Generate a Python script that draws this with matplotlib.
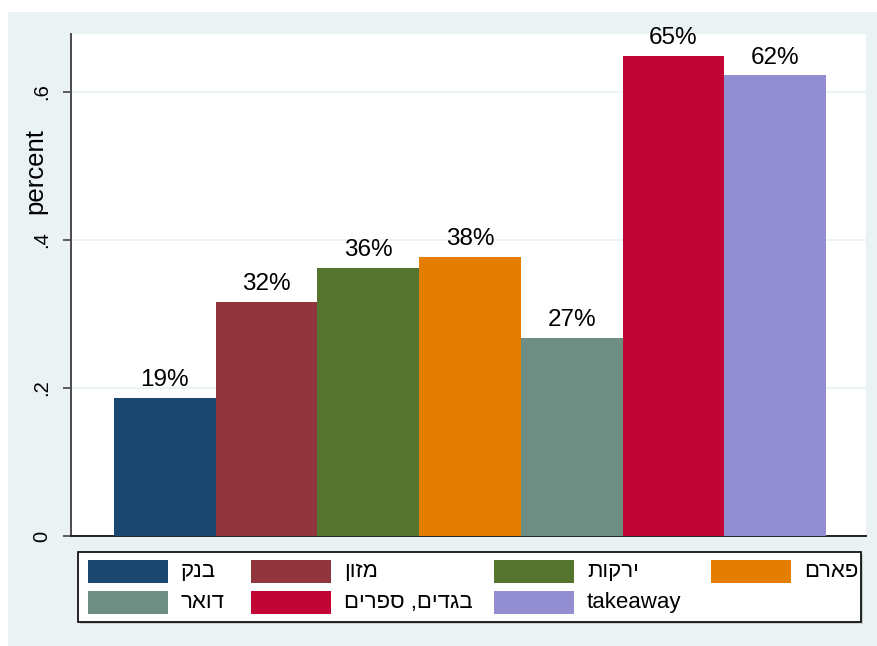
import matplotlib.pyplot as plt
from matplotlib.patches import Rectangle

plt.rcParams['font.family'] = ['Liberation Sans', 'DejaVu Sans']

# shares per category (Hebrew names kept in logical order)
categories = ['בנק', 'מזון', 'ירקות', 'פארם', 'דואר', 'בגדים, ספרים', 'takeaway']
values = [0.186, 0.316, 0.362, 0.377, 0.268, 0.648, 0.622]
colors = ['#1A476F', '#90353B', '#55752F', '#E37E00', '#6E8E84', '#C10534', '#938DD2']
yticks = [0, 0.2, 0.4, 0.6]
ytick_labels = ['0', '.2', '.4', '.6']


def visual(s):
    # matplotlib has no bidi support, so flip right-to-left strings
    if any('\u0590' <= ch <= '\u05FF' for ch in s):
        return s[::-1]
    return s


W, H = 878, 646
fig = plt.figure(figsize=(W / 100, H / 100), dpi=100)
fig.patch.set_facecolor('white')


def fx(px):
    return px / W


def fy(py):
    return 1 - py / H


# light graph region
fig.add_artist(Rectangle((fx(8), 0), 1, fy(12), transform=fig.transFigure,
                         facecolor='#EAF2F3', edgecolor='none', zorder=0))

ax = fig.add_axes([fx(71), fy(536), fx(866) - fx(71), fy(34) - fy(536)])
ax.set_facecolor('white')

x = range(len(values))
bars = ax.bar(x, values, width=1.0, color=colors, zorder=3)
for b, v in zip(bars, values):
    ax.annotate(f'{round(v * 100):.0f}%', (b.get_x() + b.get_width() / 2, v),
                xytext=(0, 5), textcoords='offset points',
                ha='center', va='bottom', fontsize=17.5)

ax.set_xlim(-0.923, 6.893)
ax.set_ylim(0, 0.678)
ax.set_xticks([])
ax.set_yticks(yticks)
ax.set_yticklabels(ytick_labels, rotation=90, va='center', fontsize=14.5)
ax.tick_params(axis='y', length=6, width=1.2, color='#444444', pad=8)
ax.yaxis.grid(True, color='#EAF2F3', linewidth=1.3, zorder=1)
ax.set_axisbelow(True)

for side in ['top', 'right']:
    ax.spines[side].set_visible(False)
ax.spines['left'].set_color('#4a4a4a')
ax.spines['left'].set_linewidth(1.4)
ax.spines['bottom'].set_color('#222222')
ax.spines['bottom'].set_linewidth(1.4)

# axis title
fig.text(fx(35), fy(171), 'percent', rotation=90, ha='center', va='center',
         fontsize=18.5)

# legend box
fig.add_artist(Rectangle((fx(80), fy(624)), fx(863) - fx(80), fy(554) - fy(624),
                         transform=fig.transFigure, facecolor='#C8CDCE',
                         edgecolor='none', zorder=4))
fig.add_artist(Rectangle((fx(78), fy(622)), fx(861) - fx(78), fy(552) - fy(622),
                         transform=fig.transFigure, facecolor='white',
                         edgecolor='black', linewidth=1.2, zorder=5))

col_x = [88, 251, 494, 711]
row_y = [560, 591]
key_w, key_h = 80, 23
for i, (name, c) in enumerate(zip(categories, colors)):
    r, col = divmod(i, 4)
    kx, ky = col_x[col], row_y[r]
    fig.add_artist(Rectangle((fx(kx), fy(ky + key_h)), key_w / W, key_h / H,
                             transform=fig.transFigure, facecolor=c,
                             edgecolor='none', zorder=6))
    fig.text(fx(kx + key_w + 13), fy(ky + key_h / 2), visual(name),
             ha='left', va='center', fontsize=16, zorder=7)

fig.savefig('out.png', dpi=100)
